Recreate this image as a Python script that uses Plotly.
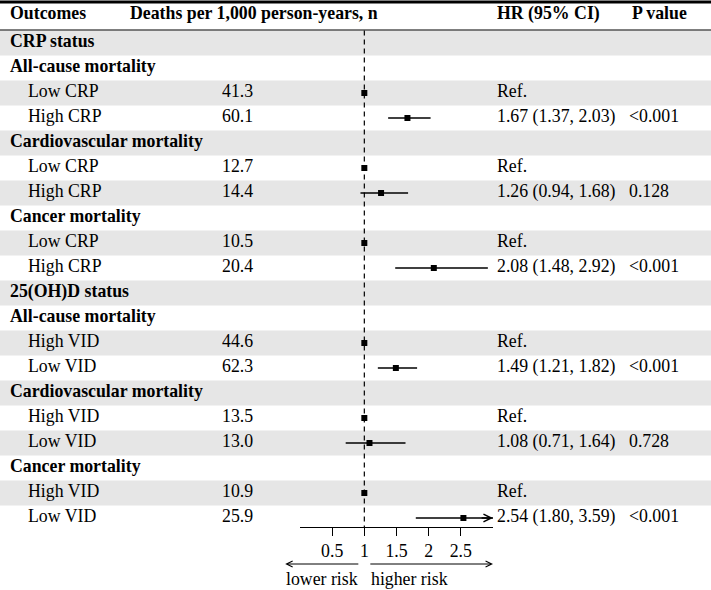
import plotly.graph_objects as go

# table rows (top to bottom)
labels = ["CRP status", "All-cause mortality", "Low CRP", "High CRP",
          "Cardiovascular mortality", "Low CRP", "High CRP",
          "Cancer mortality", "Low CRP", "High CRP",
          "25(OH)D status", "All-cause mortality", "High VID", "Low VID",
          "Cardiovascular mortality", "High VID", "Low VID",
          "Cancer mortality", "High VID", "Low VID"]
deaths = [None, None, "41.3", "60.1", None, "12.7", "14.4", None, "10.5", "20.4",
          None, None, "44.6", "62.3", None, "13.5", "13.0", None, "10.9", "25.9"]
hr = [None, None, 1, 1.67, None, 1, 1.26, None, 1, 2.08,
      None, None, 1, 1.49, None, 1, 1.08, None, 1, 2.54]
lo = [None, None, None, 1.37, None, None, 0.94, None, None, 1.48,
      None, None, None, 1.21, None, None, 0.71, None, None, 1.80]
hi = [None, None, None, 2.03, None, None, 1.68, None, None, 2.92,
      None, None, None, 1.82, None, None, 1.64, None, None, 3.59]
pval = [None, None, None, "<0.001", None, None, "0.128", None, None, "<0.001",
        None, None, None, "<0.001", None, None, "0.728", None, None, "<0.001"]

headers = ["Outcomes", "Deaths per 1,000 person-years, n", "HR (95% CI)", "P value"]
ticks = [0.5, 1, 1.5, 2, 2.5]
xmax = 3

FONT = "Times New Roman, Liberation Serif, serif"
FS = 17.8
W, H = 711, 590
axis_px = 527          # pixel row of the forest x axis
row0_px, row_h = 43, 25
fx0, fx1 = 300, 493    # forest panel left/right in pixels


def row_of(px):
    return (px - row0_px) / row_h


def hr_px(v):
    return fx0 + v * (fx1 - fx0) / xmax


n = len(labels)
rows = list(range(n))

fig = go.Figure()

# alternating grey bands
for i in rows:
    if i % 2 == 0:
        fig.add_shape(type="rect", xref="paper", yref="y", x0=0, x1=1,
                      y0=i - 0.5, y1=i + 0.5, fillcolor="#e6e6e6",
                      line_width=0, layer="below")

# header lines
fig.add_shape(type="line", xref="paper", yref="paper", x0=0, x1=1,
              y0=1 - 2 / H, y1=1 - 2 / H, line=dict(color="black", width=3))
fig.add_shape(type="line", xref="paper", yref="y", x0=0, x1=1,
              y0=-0.52, y1=-0.52, line=dict(color="black", width=1.2))

# text columns
lab_x = [10 if d is None else 28 for d in deaths]
lab_t = ["<b>%s</b>" % l if d is None else l for l, d in zip(labels, deaths)]
fig.add_trace(go.Scatter(x=lab_x, y=rows, text=lab_t, mode="text",
                         textposition="middle right", cliponaxis=False,
                         textfont=dict(family=FONT, size=FS, color="black"),
                         xaxis="x", yaxis="y", showlegend=False, hoverinfo="skip"))

d_rows = [i for i in rows if deaths[i] is not None]
fig.add_trace(go.Scatter(x=[222] * len(d_rows), y=d_rows, text=[deaths[i] for i in d_rows],
                         mode="text", textposition="middle right", cliponaxis=False,
                         textfont=dict(family=FONT, size=FS, color="black"),
                         xaxis="x", yaxis="y", showlegend=False, hoverinfo="skip"))

hr_text = []
for i in d_rows:
    if lo[i] is None:
        hr_text.append("Ref.")
    else:
        hr_text.append("%.2f (%.2f, %.2f)" % (hr[i], lo[i], hi[i]))
fig.add_trace(go.Scatter(x=[497] * len(d_rows), y=d_rows, text=hr_text,
                         mode="text", textposition="middle right", cliponaxis=False,
                         textfont=dict(family=FONT, size=FS, color="black"),
                         xaxis="x", yaxis="y", showlegend=False, hoverinfo="skip"))

p_rows = [i for i in rows if pval[i] is not None]
fig.add_trace(go.Scatter(x=[629] * len(p_rows), y=p_rows,
                         text=[pval[i].replace("<", "&lt;") for i in p_rows],
                         mode="text", textposition="middle right", cliponaxis=False,
                         textfont=dict(family=FONT, size=FS, color="black"),
                         xaxis="x", yaxis="y", showlegend=False, hoverinfo="skip"))

# headers
head_x = [10, 130, 497, 632]
fig.add_trace(go.Scatter(x=head_x, y=[row_of(15)] * 4, text=["<b>%s</b>" % h for h in headers],
                         mode="text", textposition="middle right", cliponaxis=False,
                         textfont=dict(family=FONT, size=FS, color="black"),
                         xaxis="x", yaxis="y", showlegend=False, hoverinfo="skip"))

# reference line at HR = 1
fig.add_shape(type="line", xref="x2", yref="y", x0=1, x1=1, y0=-0.5, y1=row_of(axis_px),
              line=dict(color="black", width=1.2, dash="5px,4px"))

# confidence intervals
ci_x, ci_y = [], []
for i in d_rows:
    if lo[i] is not None:
        ci_x += [lo[i], min(hi[i], xmax), None]
        ci_y += [i, i, None]
fig.add_trace(go.Scatter(x=ci_x, y=ci_y, mode="lines", line=dict(color="black", width=1.4),
                         xaxis="x2", yaxis="y", showlegend=False, hoverinfo="skip"))

# arrow for CI beyond axis
for i in d_rows:
    if hi[i] is not None and hi[i] > xmax:
        fig.add_annotation(x=xmax, y=i, ax=xmax - 0.2, ay=i, xref="x2", yref="y",
                           axref="x2", ayref="y", showarrow=True, arrowhead=5,
                           arrowsize=1.1, arrowwidth=1.4, arrowcolor="black", text="")

# point estimates
fig.add_trace(go.Scatter(x=[hr[i] for i in d_rows], y=d_rows, mode="markers",
                         marker=dict(symbol="square", size=6, color="black"),
                         xaxis="x2", yaxis="y", showlegend=False, hoverinfo="skip"))

# risk arrows under the axis (paper coordinates, below the plotting area)
arrow_y = 1 - 564 / H
text_y = 1 - 579 / H
fig.add_annotation(x=hr_px(-0.23) / W, y=arrow_y, ax=hr_px(0.93) - hr_px(-0.23), ay=0,
                   xref="paper", yref="paper", axref="pixel", ayref="pixel",
                   showarrow=True, arrowhead=5, arrowsize=1.2,
                   arrowwidth=1, arrowcolor="black", text="")
fig.add_annotation(x=hr_px(xmax) / W, y=arrow_y, ax=hr_px(1.07) - hr_px(xmax), ay=0,
                   xref="paper", yref="paper", axref="pixel", ayref="pixel",
                   showarrow=True, arrowhead=5, arrowsize=1.2,
                   arrowwidth=1, arrowcolor="black", text="")
fig.add_annotation(x=hr_px(0.93) / W, y=text_y, xref="paper", yref="paper",
                   text="lower risk", showarrow=False, xanchor="right", yanchor="middle",
                   font=dict(family=FONT, size=FS, color="black"))
fig.add_annotation(x=hr_px(1.08) / W, y=text_y, xref="paper", yref="paper",
                   text="higher risk", showarrow=False, xanchor="left", yanchor="middle",
                   font=dict(family=FONT, size=FS, color="black"))

fig.update_layout(
    width=W, height=H,
    margin=dict(l=0, r=0, t=0, b=0),
    paper_bgcolor="white", plot_bgcolor="rgba(0,0,0,0)",
    font=dict(family=FONT, size=FS, color="black"),
    xaxis=dict(domain=[0, 1], range=[0, W], visible=False, anchor="y"),
    xaxis2=dict(domain=[fx0 / W, fx1 / W], range=[0, xmax], anchor="y",
                showline=True, linecolor="black", linewidth=1.2,
                ticks="outside", ticklen=8, tickwidth=1.2, tickcolor="black",
                tickvals=ticks, ticktext=[("%g" % t) for t in ticks],
                tickfont=dict(family=FONT, size=FS, color="black"),
                showgrid=False, zeroline=False),
    yaxis=dict(domain=[(H - axis_px) / H, 1], range=[row_of(axis_px), row_of(0)],
               visible=False),
)

# drop the default page margin so the figure sits at the window's corner
fig.write_html("out.html", config={"displayModeBar": False},
               post_script="document.body.style.margin='0px';")
